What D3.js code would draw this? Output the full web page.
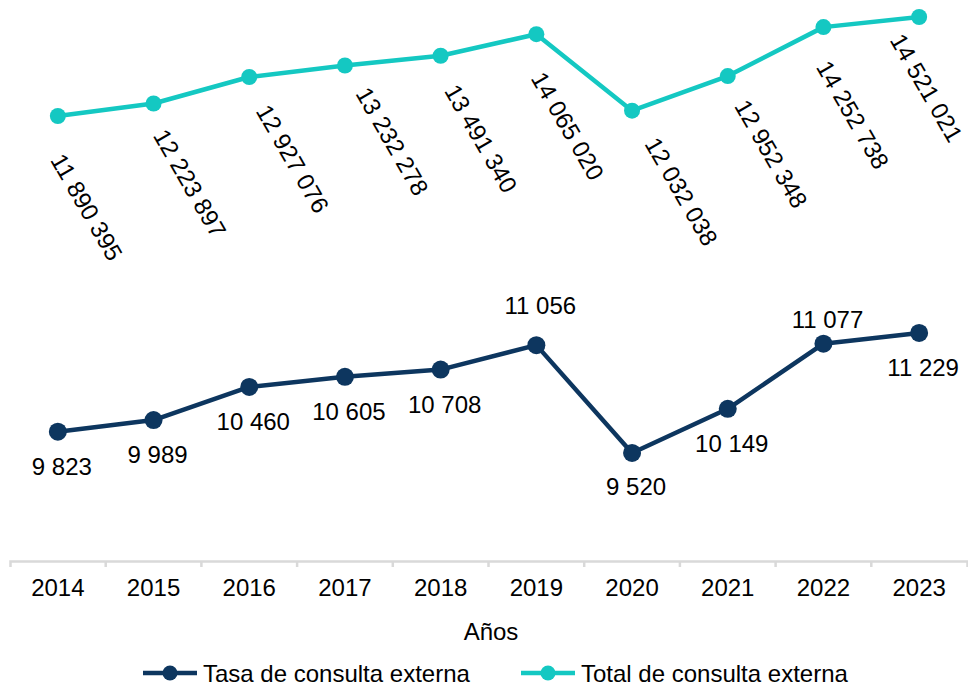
<!DOCTYPE html>
<html>
<head>
<meta charset="utf-8">
<script src="https://cdn.jsdelivr.net/npm/d3@7"></script>
<style>
  body { margin: 0; background: #fff; }
  text { font-family: "Liberation Sans", Arial, sans-serif; fill: #000; }
</style>
</head>
<body>
<div id="chart"></div>
<script>
// data
var years = ["2014", "2015", "2016", "2017", "2018", "2019", "2020", "2021", "2022", "2023"];
var tasa = [9823, 9989, 10460, 10605, 10708, 11056, 9520, 10149, 11077, 11229];
var total = [11890395, 12223897, 12927076, 13232278, 13491340, 14065020, 12032038, 12952348, 14252738, 14521021];
var seriesNames = ["Tasa de consulta externa", "Total de consulta externa"];
var xTitle = "Años";

// label placement (layout only)
var tasaLabelDy = [43, 43, 43, 43, 43, -31, 42, 43, -16, 43];
var totalLabelNudge = [[-8, 44], [-1, 32], [6, 34], [10, 28], [3, 35], [-6, 44], [12, 33], [6, 30], [-8, 40], [-30, 23]];

var width = 968, height = 685;
var axisY = 561;
var navy = "#0d365f", teal = "#14c8c2";
var fontSize = "24px";

var fmt = d3.formatLocale({decimal: ",", thousands: " ", grouping: [3], currency: ["", ""]}).format(",d");

var xScale = d3.scaleBand().domain(years).range([10, 967]).padding(0);
var yTotal = d3.scaleLinear().domain([0, 15000000]).range([563.5, -1]);
var yTasa = d3.scaleLinear().domain([8000, 16000]).range([559.7, -2]);

var cx = function(i) { return xScale(years[i]) + xScale.bandwidth() / 2; };

var svg = d3.select("#chart")
    .append("svg")
        .attr("width", width)
        .attr("height", height);

// x axis
var xAxis = d3.axisBottom(xScale).tickSizeInner(0).tickSizeOuter(6).tickPadding(18);
var gx = svg.append("g")
    .attr("transform", "translate(0," + axisY + ")")
    .call(xAxis);
gx.select(".domain").attr("stroke", "#d9d9d9").attr("stroke-width", 2.5);
gx.selectAll(".tick text").style("font-size", fontSize).attr("fill", "#000");
gx.selectAll(".bound")
    .data(years.slice(1))
    .enter().append("line")
        .attr("class", "bound")
        .attr("x1", function(d) { return xScale(d); })
        .attr("x2", function(d) { return xScale(d); })
        .attr("y1", 0)
        .attr("y2", 6)
        .attr("stroke", "#d9d9d9")
        .attr("stroke-width", 2.5);

svg.append("text")
    .attr("x", 491)
    .attr("y", 640)
    .attr("text-anchor", "middle")
    .style("font-size", fontSize)
    .text(xTitle);

// lines
var totalLine = d3.line()
    .x(function(d, i) { return cx(i); })
    .y(function(d) { return yTotal(d); });
var tasaLine = d3.line()
    .x(function(d, i) { return cx(i); })
    .y(function(d) { return yTasa(d); });

svg.append("path")
    .attr("d", totalLine(total))
    .attr("fill", "none")
    .attr("stroke", teal)
    .attr("stroke-width", 4.5)
    .attr("stroke-linejoin", "round");

svg.append("path")
    .attr("d", tasaLine(tasa))
    .attr("fill", "none")
    .attr("stroke", navy)
    .attr("stroke-width", 4.5)
    .attr("stroke-linejoin", "round");

svg.selectAll(".ptTotal")
    .data(total)
    .enter().append("circle")
        .attr("class", "ptTotal")
        .attr("cx", function(d, i) { return cx(i); })
        .attr("cy", function(d) { return yTotal(d); })
        .attr("r", 8)
        .attr("fill", teal);

svg.selectAll(".ptTasa")
    .data(tasa)
    .enter().append("circle")
        .attr("class", "ptTasa")
        .attr("cx", function(d, i) { return cx(i); })
        .attr("cy", function(d) { return yTasa(d); })
        .attr("r", 9)
        .attr("fill", navy);

// labels
svg.selectAll(".lblTasa")
    .data(tasa)
    .enter().append("text")
        .attr("class", "lblTasa")
        .attr("x", function(d, i) { return cx(i) + 4; })
        .attr("y", function(d, i) { return yTasa(d) + tasaLabelDy[i]; })
        .attr("text-anchor", "middle")
        .style("font-size", fontSize)
        .text(function(d) { return fmt(d); });

svg.selectAll(".lblTotal")
    .data(total)
    .enter().append("text")
        .attr("class", "lblTotal")
        .attr("transform", function(d, i) {
            var ax = cx(i) + totalLabelNudge[i][0];
            var ay = yTotal(d) + totalLabelNudge[i][1];
            return "translate(" + ax + "," + ay + ") rotate(60)";
        })
        .attr("text-anchor", "start")
        .style("font-size", fontSize)
        .text(function(d) { return fmt(d); });

// legend
var legendColors = [navy, teal];
var legendX = [143, 521];
var legendY = 673;
var lg = svg.selectAll(".legend")
    .data(seriesNames)
    .enter().append("g")
        .attr("class", "legend")
        .attr("transform", function(d, i) { return "translate(" + legendX[i] + "," + legendY + ")"; });
lg.append("line")
    .attr("x1", 0).attr("x2", 54)
    .attr("stroke", function(d, i) { return legendColors[i]; })
    .attr("stroke-width", 4.5);
lg.append("circle")
    .attr("cx", 27)
    .attr("r", 7.5)
    .attr("fill", function(d, i) { return legendColors[i]; });
lg.append("text")
    .attr("x", 60)
    .attr("y", 8.5)
    .style("font-size", fontSize)
    .text(function(d) { return d; });
</script>
</body>
</html>
